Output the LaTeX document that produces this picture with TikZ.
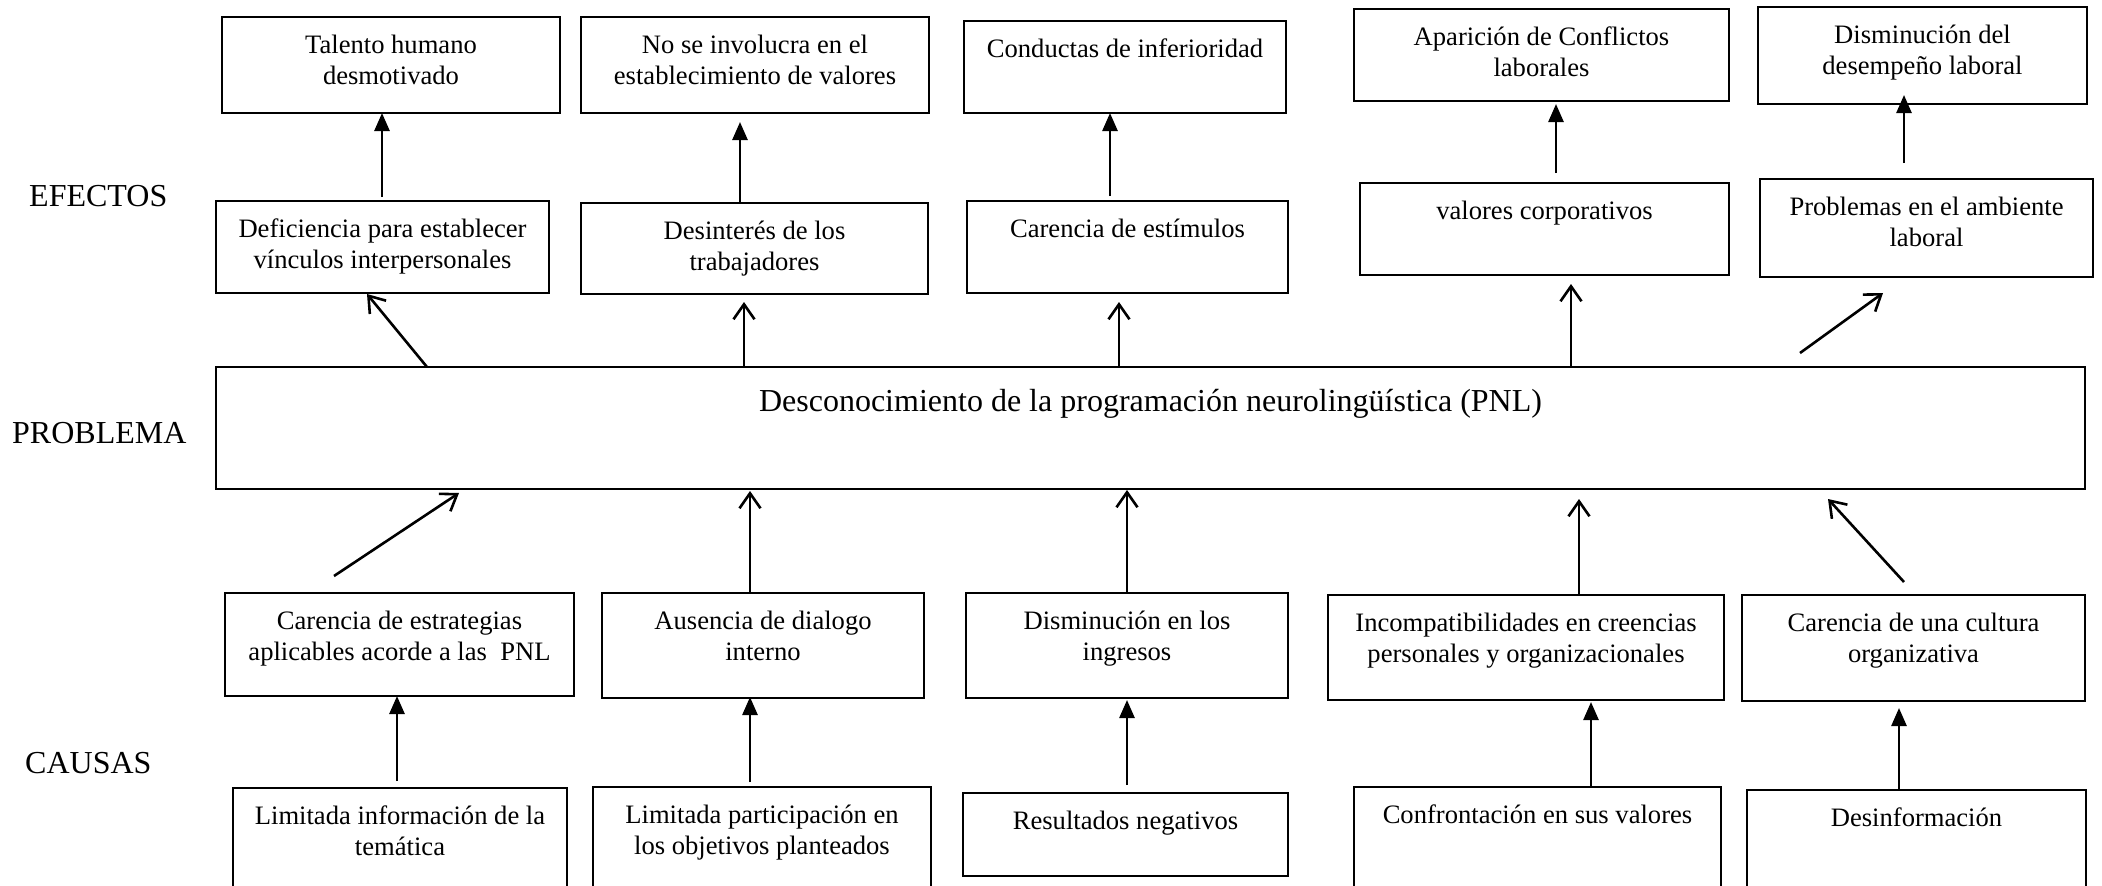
\documentclass[tikz,border=0pt]{standalone}
\usepackage{fontspec}
\setmainfont{Liberation Serif}
\usetikzlibrary{arrows.meta}
\begin{document}
\begin{tikzpicture}[x=1pt,y=-1pt,
  box/.style={draw=black, line width=1.5pt, inner sep=0pt, outer sep=0pt},
  txt/.style={anchor=north, inner sep=0pt, align=center, font=\fontsize{26.6pt}{30.5pt}\selectfont},
  big/.style={inner sep=0pt, font=\fontsize{32pt}{38pt}\selectfont},
  fa/.style={line width=2.6pt, -{Triangle[length=18pt,width=15pt]}},
  oa/.style={line width=2.6pt, -{Straight Barb[length=15pt,width=21pt]}}]
\useasboundingbox (0,0) rectangle (2102,886);
\clip (0,0) rectangle (2102,886);

% side labels
\node[big, anchor=west] (lef) at (29,196) {EFECTOS};
\node[big, anchor=west] (lpr) at (12,433) {PROBLEMA};
\node[big, anchor=west] (lca) at (25,763) {CAUSAS};

% top effects
\node[box, minimum width=338pt, minimum height=96pt] (t1) at (391,65) {};
\node[box, minimum width=348pt, minimum height=96pt] (t2) at (755,65) {};
\node[box, minimum width=322pt, minimum height=92pt] (t3) at (1125,67) {};
\node[box, minimum width=375pt, minimum height=92pt] (t4) at (1541.5,55) {};
\node[box, minimum width=329pt, minimum height=97pt] (t5) at (1922.5,55.5) {};
\node[txt] (t1t) at ([yshift=-18pt]t1.north) {Talento humano\\desmotivado};
\node[txt] (t2t) at ([yshift=-18pt]t2.north) {No se involucra en el\\establecimiento de valores};
\node[txt] (t3t) at ([yshift=-18pt]t3.north) {Conductas de inferioridad};
\node[txt] (t4t) at ([yshift=-18pt]t4.north) {Aparición de Conflictos\\laborales};
\node[txt] (t5t) at ([yshift=-18pt]t5.north) {Disminución del\\desempeño laboral};

% second effects
\node[box, minimum width=333pt, minimum height=92pt] (s1) at (382.5,247) {};
\node[box, minimum width=347pt, minimum height=91pt] (s2) at (754.5,248.5) {};
\node[box, minimum width=321pt, minimum height=92pt] (s3) at (1127.5,247) {};
\node[box, minimum width=369pt, minimum height=92pt] (s4) at (1544.5,229) {};
\node[box, minimum width=333pt, minimum height=98pt] (s5) at (1926.5,228) {};
\node[txt] (s1t) at ([yshift=-18pt]s1.north) {Deficiencia para establecer\\vínculos interpersonales};
\node[txt] (s2t) at ([yshift=-18pt]s2.north) {Desinterés de los\\trabajadores};
\node[txt] (s3t) at ([yshift=-18pt]s3.north) {Carencia de estímulos};
\node[txt] (s4t) at ([yshift=-18pt]s4.north) {valores corporativos};
\node[txt] (s5t) at ([yshift=-18pt]s5.north) {Problemas en el ambiente\\laboral};

% problem
\node[box, minimum width=1869pt, minimum height=122pt] (p) at (1150.5,428) {};
\node[big, anchor=north] (pt) at ([yshift=-22pt]p.north) {Desconocimiento de la programación neurolingüística (PNL)};

% causes
\node[box, minimum width=349pt, minimum height=103pt] (c1) at (399.5,644.5) {};
\node[box, minimum width=322pt, minimum height=105pt] (c2) at (763,645.5) {};
\node[box, minimum width=322pt, minimum height=105pt] (c3) at (1127,645.5) {};
\node[box, minimum width=396pt, minimum height=105pt] (c4) at (1526,647.5) {};
\node[box, minimum width=343pt, minimum height=106pt] (c5) at (1913.5,648) {};
\node[txt] (c1t) at ([yshift=-18pt]c1.north) {Carencia de estrategias\\aplicables acorde a las\ \ PNL};
\node[txt] (c2t) at ([yshift=-18pt]c2.north) {Ausencia de dialogo\\interno};
\node[txt] (c3t) at ([yshift=-18pt]c3.north) {Disminución en los\\ingresos};
\node[txt] (c4t) at ([yshift=-18pt]c4.north) {Incompatibilidades en creencias\\personales y organizacionales};
\node[txt] (c5t) at ([yshift=-18pt]c5.north) {Carencia de una cultura\\organizativa};

% root causes
\node[box, minimum width=334pt, minimum height=112pt] (b1) at (400,844) {};
\node[box, minimum width=338pt, minimum height=113pt] (b2) at (762,843.5) {};
\node[box, minimum width=325pt, minimum height=83pt] (b3) at (1125.5,834.5) {};
\node[box, minimum width=367pt, minimum height=113pt] (b4) at (1537.5,843.5) {};
\node[box, minimum width=339pt, minimum height=110pt] (b5) at (1916.5,845) {};
\node[txt] (b1t) at ([yshift=-18pt]b1.north) {Limitada información de la\\temática};
\node[txt] (b2t) at ([yshift=-18pt]b2.north) {Limitada participación en\\los objetivos planteados};
\node[txt] (b3t) at ([yshift=-18pt]b3.north) {Resultados negativos};
\node[txt] (b4t) at ([yshift=-18pt]b4.north) {Confrontación en sus valores};
\node[txt] (b5t) at ([yshift=-18pt]b5.north) {Desinformación};

% arrows: second effects -> top effects
\draw[fa] ([xshift=-0.5pt,yshift=4pt]s1.north) -- ([xshift=-9pt]t1.south);
\draw[fa] ([xshift=-14.5pt]s2.north) -- ([xshift=-15pt,yshift=-9pt]t2.south);
\draw[fa] ([xshift=-17.5pt,yshift=5pt]s3.north) -- ([xshift=-15pt]t3.south);
\draw[fa] ([xshift=11.5pt,yshift=10pt]s4.north) -- ([xshift=14.5pt,yshift=-3pt]t4.south);
\draw[fa] ([xshift=-22.5pt,yshift=16pt]s5.north) -- ([xshift=-18.5pt,yshift=9pt]t5.south);

% arrows: problem -> second effects
\draw[oa] ([xshift=-723.5pt]p.north) -- ([xshift=-15.5pt,yshift=-1pt]s1.south);
\draw[oa] ([xshift=-406.5pt]p.north) -- ([xshift=-10.5pt,yshift=-8pt]s2.south);
\draw[oa] ([xshift=-31.5pt]p.north) -- ([xshift=-8.5pt,yshift=-9pt]s3.south);
\draw[oa] ([xshift=420.5pt]p.north) -- ([xshift=26.5pt,yshift=-9pt]s4.south);
\draw[oa] ([xshift=649.5pt,yshift=14pt]p.north) -- ([xshift=-43.5pt,yshift=-16pt]s5.south);

% arrows: causes -> problem
\draw[oa] ([xshift=-65.5pt,yshift=17pt]c1.north) -- ([xshift=-691.5pt,yshift=-4pt]p.south);
\draw[oa] ([xshift=-13pt]c2.north) -- ([xshift=-400.5pt,yshift=-2pt]p.south);
\draw[oa] (c3.north) -- ([xshift=-23.5pt,yshift=-1pt]p.south);
\draw[oa] ([xshift=53pt]c4.north) -- ([xshift=428.5pt,yshift=-10pt]p.south);
\draw[oa] ([xshift=-9.5pt,yshift=13pt]c5.north) -- ([xshift=677.5pt,yshift=-10pt]p.south);

% arrows: root causes -> causes
\draw[fa] ([xshift=-3pt,yshift=7pt]b1.north) -- ([xshift=-2.5pt]c1.south);
\draw[fa] ([xshift=-12pt,yshift=5pt]b2.north) -- ([xshift=-13pt,yshift=1pt]c2.south);
\draw[fa] ([xshift=1.5pt,yshift=8pt]b3.north) -- ([yshift=-2pt]c3.south);
\draw[fa] ([xshift=53.5pt]b4.north) -- ([xshift=65pt,yshift=-2pt]c4.south);
\draw[fa] ([xshift=-17.5pt]b5.north) -- ([xshift=-14.5pt,yshift=-7pt]c5.south);
\end{tikzpicture}
\end{document}
